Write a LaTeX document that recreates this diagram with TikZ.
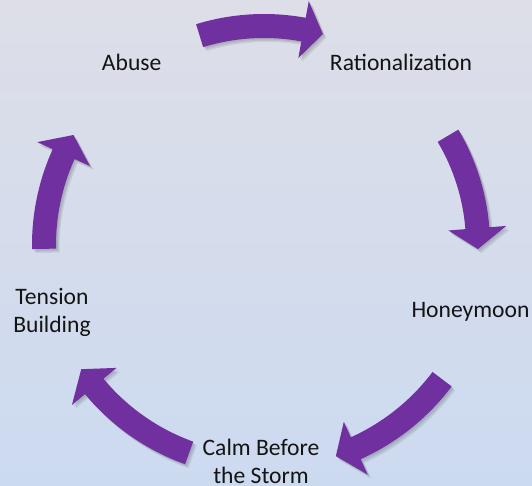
\documentclass[tikz,border=0pt]{standalone}
\usepackage{fontspec}
\setmainfont{Carlito}
\definecolor{arrowpurple}{HTML}{7030A0}
\definecolor{bgtop}{HTML}{DDDEE8}
\definecolor{bgbottom}{HTML}{CCDAF0}
\tikzset{
  labeltext/.style={font=\fontsize{23.6}{28}\selectfont, inner sep=0pt, anchor=base, text=black!92, align=center},
  arrowbody/.style={fill=arrowpurple},
  arrowshade/.style={fill=black, opacity=0.07},
}
\newcommand{\cycarrow}[5]{% #1 style, #2 tail angle, #3 head base angle, #4 tip angle, #5 radius
  \pgfmathsetmacro{\ro}{#5+12}%
  \pgfmathsetmacro{\ri}{#5-12}%
  \pgfmathsetmacro{\bo}{#5+29}%
  \pgfmathsetmacro{\bi}{#5-29}%
  \fill[#1] (#2:\ro) arc[start angle=#2, end angle=#3, radius=\ro] -- (#3:\bo) -- (#4:#5) -- (#3:\bi) -- (#3:\ri) arc[start angle=#3, end angle=#2, radius=\ri] -- cycle;
}
\newcommand{\allarrows}[1]{%
  \cycarrow{#1}{107.1}{79.6}{74.4}{219}
  \cycarrow{#1}{30.7}{4.5}{-1.1}{214}
  \cycarrow{#1}{-37}{-65.7}{-71.2}{223}
  \cycarrow{#1}{-109.8}{-140.2}{-145.8}{221}
  \cycarrow{#1}{181}{155.6}{150.0}{220}
}
\begin{document}
\begin{tikzpicture}[x=1pt,y=1pt]
  \useasboundingbox (0,0) rectangle (532,486);
  \clip (0,0) rectangle (532,486);
  \shade[top color=bgtop, bottom color=bgbottom] (0,0) rectangle (532,486);
  % soft shadows
  \begin{scope}[shift={(265.5,239.5)}]\allarrows{arrowshade}\end{scope}
  \begin{scope}[shift={(266.5,238.2)}]\allarrows{arrowshade}\end{scope}
  \begin{scope}[shift={(267.5,237)}]\allarrows{arrowshade}\end{scope}
  % arrows
  \begin{scope}[shift={(264,241)}]\allarrows{arrowbody}\end{scope}
  % labels
  \node[labeltext] (abuse) at (131.7,415) {Abuse};
  \node[labeltext] (rational) at (401,415) {Rationalization};
  \node[labeltext] (honey) at (470.5,168.7) {Honeymoon};
  \node[labeltext] (calm) at (261,2) {Calm Before\\the Storm};
  \node[labeltext] (tension) at (52,153) {Tension\\Building};
\end{tikzpicture}
\end{document}
